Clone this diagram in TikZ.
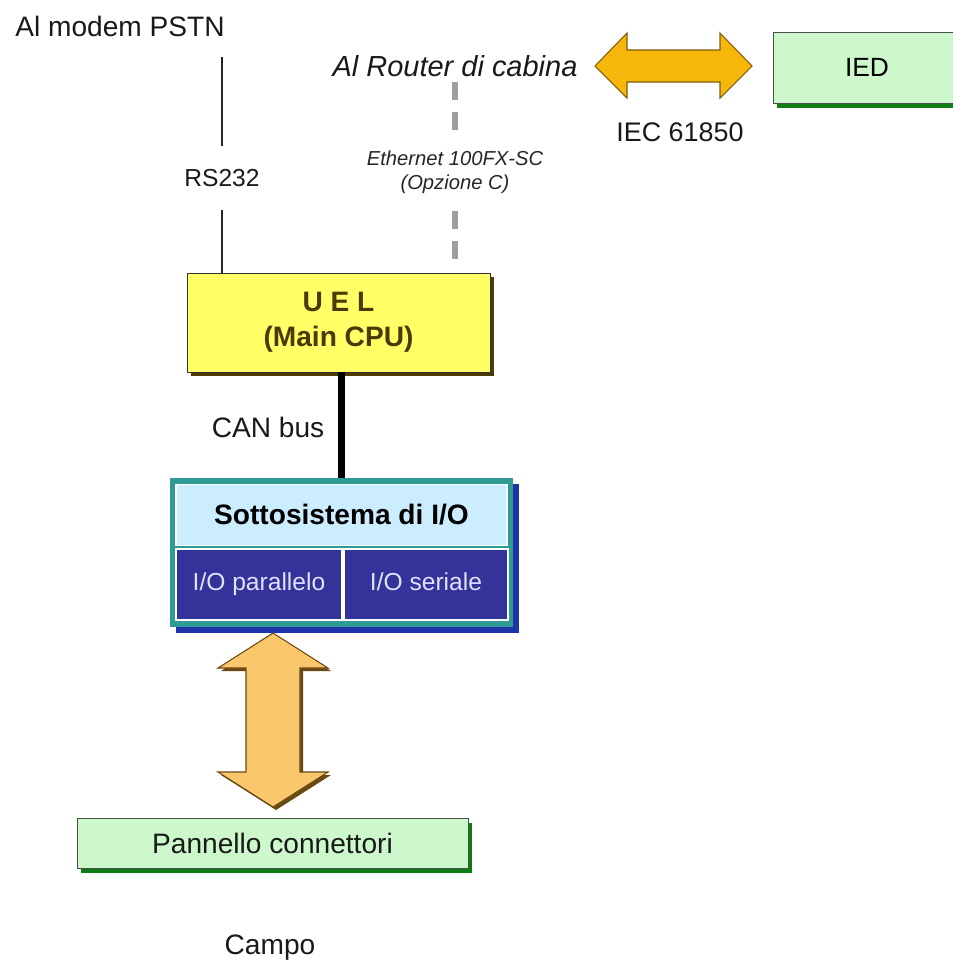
\documentclass[tikz,border=0pt]{standalone}
\usepackage{fontspec}
\setmainfont{Liberation Sans}
\usetikzlibrary{shadows}

\definecolor{boxgreen}{HTML}{CCF8CC}
\definecolor{shadowgreen}{HTML}{0E7D14}
\definecolor{uelyellow}{HTML}{FFFF66}
\definecolor{uelshadow}{HTML}{4D3B00}
\definecolor{ueltext}{HTML}{4A3A05}
\definecolor{ioteal}{HTML}{2E9C94}
\definecolor{iohead}{HTML}{CCECFF}
\definecolor{iocell}{HTML}{333399}
\definecolor{ioshadow}{HTML}{1F33A8}
\definecolor{iecfill}{HTML}{F7B60A}
\definecolor{iecline}{HTML}{7F5E10}
\definecolor{fieldfill}{HTML}{FBC76C}
\definecolor{fieldshadow}{HTML}{6B4A12}

\tikzset{
	lbl/.style={font=\fontsize{16}{19}\selectfont, text=black!90, inner sep=0pt},
	smalllbl/.style={font=\fontsize{11.5}{13.5}\selectfont\itshape, text=black!85, align=center, inner sep=0pt},
	greenbox/.style={draw=black!70, fill=boxgreen, inner sep=0pt,
		general shadow={fill=shadowgreen, draw=none, shadow xshift=0.08cm, shadow yshift=-0.1cm}},
	cell/.style={fill=iocell, draw=white, line width=0.8pt, inner sep=0pt,
		minimum height=1.42cm, text height=1.8ex, text depth=0.5ex,
		text=white!88!blue, font=\fontsize{14}{17}\selectfont},
	ethline/.style={line width=0.12cm, gray!75, dash pattern=on 0.36cm off 0.24cm},
}

\begin{document}
\begin{tikzpicture}[x=0.02cm, y=-0.02cm]
	\clip (0,0) rectangle (953,965);

	% upper links
	\node[lbl] (modem) at (120,26) {Al modem PSTN};
	\coordinate (rsup) at (222,57);
	\node[lbl, font=\fontsize{14}{17}\selectfont, minimum height=1.26cm] (rs) at (222,178) {RS232};

	\node[lbl, font=\fontsize{16.5}{19}\selectfont\itshape] (router) at (455,66) {Al Router di cabina};
	\coordinate (rt) at (455,82);
	\node[smalllbl, minimum height=1.56cm] (eth) at (455,172) {Ethernet 100FX-SC\\(Opzione C)};
	\coordinate (ethend) at (455,262);

	\node[greenbox, minimum width=3.76cm, minimum height=1.42cm, font=\fontsize{15}{18}\selectfont] (ied) at (867,67.5) {IED};
	\node[lbl, font=\fontsize{15.3}{18}\selectfont] (iec) at (680,132) {IEC 61850};

	\draw[draw=iecline, fill=iecfill, line width=0.6pt]
		(595,66) -- (627,33) -- (627,50) -- (720,50) -- (720,33) -- (752,66)
		-- (720,98) -- (720,82) -- (627,82) -- (627,98) -- cycle;

	% main unit
	\node[draw=black!80, fill=uelyellow, minimum width=6.06cm, minimum height=1.98cm,
		align=center, text=ueltext, font=\fontsize{16}{20}\selectfont\bfseries,
		general shadow={fill=uelshadow, draw=none, shadow xshift=0.08cm, shadow yshift=-0.08cm}]
		(uel) at (338.5,322.5) {U E L\\(Main CPU)};

	\draw[line width=0.8pt, black!85] (rsup) -- (rs.north);
	\draw[line width=0.8pt, black!85] (rs.south) -- (rs.south |- uel.north);
	\draw[ethline] (rt) -- (eth.north);
	\draw[ethline] (eth.south) -- (ethend);

	% I/O subsystem
	\node[fill=ioteal, minimum width=6.86cm, minimum height=2.98cm, inner sep=0pt,
		general shadow={fill=ioshadow, shadow xshift=0.12cm, shadow yshift=-0.12cm}]
		(io) at (341.5,552.5) {};
	\node[fill=iohead, draw=white, line width=0.8pt, minimum width=6.62cm, minimum height=1.22cm,
		font=\fontsize{16}{19}\selectfont\bfseries, inner sep=0pt] (iohd) at (341.5,515) {Sottosistema di I/O};
	\node[cell, minimum width=3.32cm] (iopar) at (259,584.5) {I/O parallelo};
	\node[cell, minimum width=3.28cm] (ioser) at (426,584.5) {I/O seriale};

	\draw[line width=0.14cm] (uel.south -| io.north) -- (io.north);
	\node[lbl] (can) at (268,427) {CAN bus};

	% field side
	\draw[draw=fieldshadow, fill=fieldfill, line width=0.6pt,
		general shadow={fill=fieldshadow, draw=none, shadow xshift=0.06cm, shadow yshift=-0.06cm}]
		(273,633) -- (328,668) -- (300,668) -- (300,772) -- (328,772) -- (273,807)
		-- (218,772) -- (246,772) -- (246,668) -- (218,668) -- cycle;

	\node[greenbox, minimum width=7.82cm, minimum height=1cm, lbl] (pannello) at (272.5,843) {Pannello connettori};
	\node[lbl] (campo) at (270,948) {Campo};
\end{tikzpicture}
\end{document}
